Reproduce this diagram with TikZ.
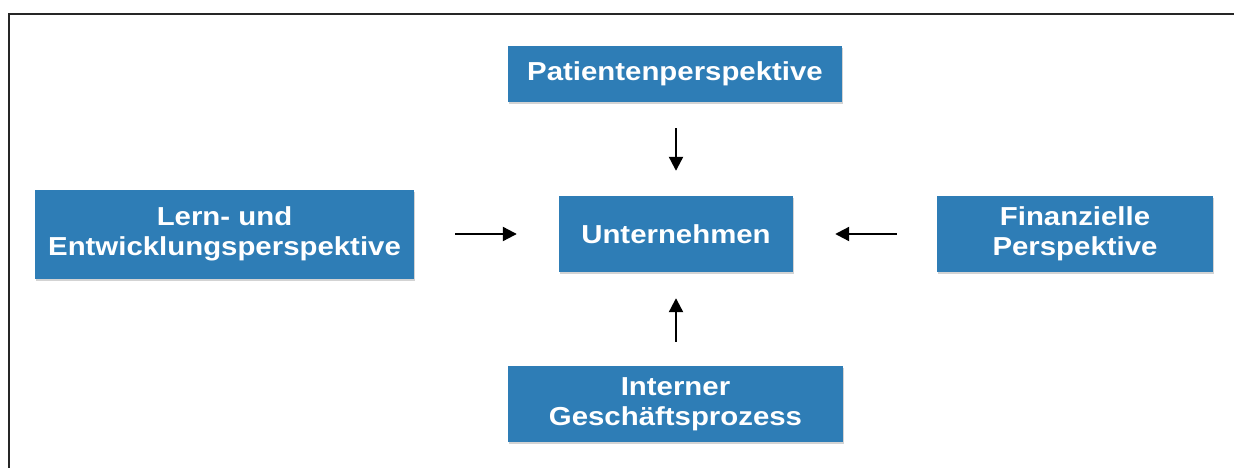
\documentclass[tikz,border=0pt]{standalone}
\usepackage{fontspec}
\setmainfont[FakeStretch=1.13]{Liberation Sans}
\usetikzlibrary{arrows.meta,shadows}

\definecolor{kastenblau}{RGB}{46,125,182}

\tikzset{
  kasten/.style={fill=kastenblau, text=white, font=\bfseries\fontsize{26}{30}\selectfont,
    align=center, inner sep=0pt,
    drop shadow={opacity=0.35, shadow xshift=1pt, shadow yshift=-2pt}},
  pfeil/.style={line width=2.2pt, -{Triangle[length=14pt,width=14pt]}}
}

\begin{document}
\begin{tikzpicture}[x=1pt, y=-1pt]

% Frame
\useasboundingbox (0,0) rectangle (1234,468);
\draw[line width=2.5pt, black!85] (9,14) rectangle (1245,480);

% Boxes
\node[kasten, minimum width=334pt, minimum height=56pt] (patient) at (675,74) {Patientenperspektive};
\node[kasten, minimum width=379pt, minimum height=89pt] (lernen) at (224.5,234) {Lern- und\\Entwicklungsperspektive};
\node[kasten, minimum width=234pt, minimum height=76pt] (unternehmen) at (676,234) {Unternehmen};
\node[kasten, minimum width=276pt, minimum height=76pt] (finanzen) at (1075,234) {Finanzielle\\Perspektive};
\node[kasten, minimum width=335pt, minimum height=76pt] (prozess) at (675.5,404) {Interner\\Geschäftsprozess};

% Arrows
\draw[pfeil, shorten <=26pt, shorten >=25pt] (patient.south -| unternehmen) -- (unternehmen.north);
\draw[pfeil, shorten <=41pt, shorten >=42pt] (lernen.east) -- (unternehmen.west);
\draw[pfeil, shorten <=40pt, shorten >=42pt] (finanzen.west) -- (unternehmen.east);
\draw[pfeil, shorten <=24pt, shorten >=26pt] (prozess.north -| unternehmen) -- (unternehmen.south);

\end{tikzpicture}
\end{document}
